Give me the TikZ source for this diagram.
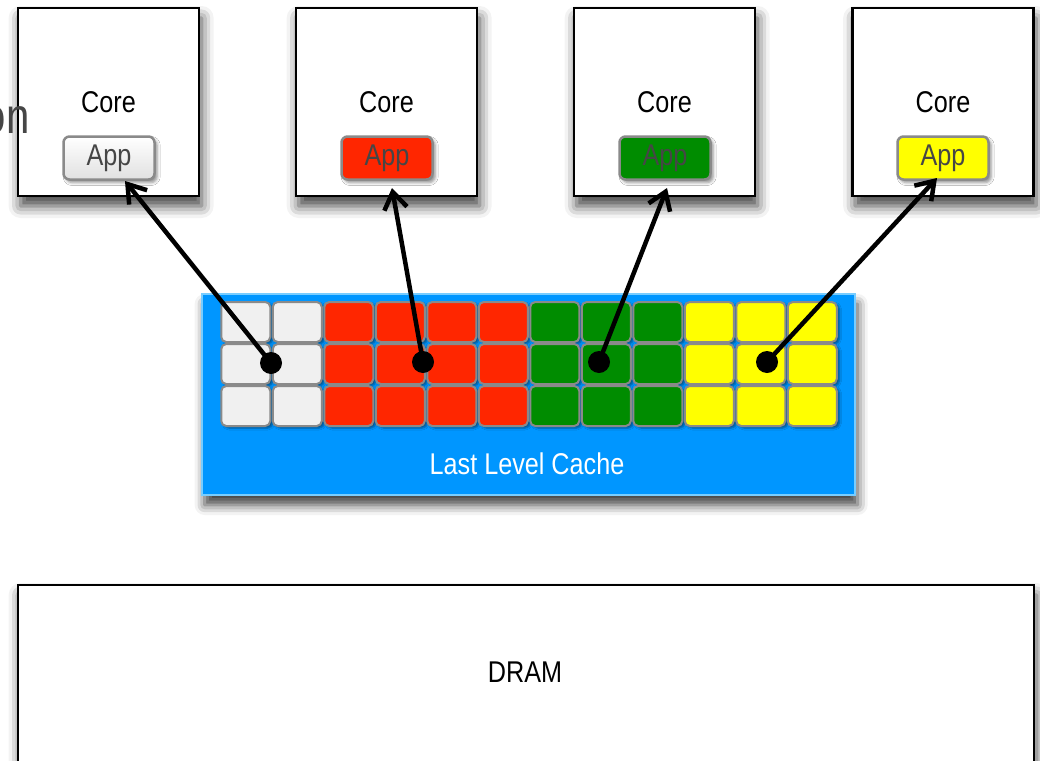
\documentclass[tikz,border=0pt]{standalone}
\usepackage{fontspec}
\setmainfont[FakeStretch=0.84]{Liberation Sans}
\usetikzlibrary{arrows.meta,shadows.blur}

\definecolor{cacheblue}{RGB}{0,150,255}
\definecolor{cacheedge}{RGB}{120,205,255}
\definecolor{appred}{RGB}{255,38,0}
\definecolor{appgreen}{RGB}{0,140,0}
\definecolor{appyellow}{RGB}{255,255,0}
\definecolor{cellwhite}{RGB}{240,240,240}
\definecolor{rimgray}{RGB}{138,138,138}
\definecolor{apptext}{RGB}{70,70,70}

\tikzset{
  every node/.style={font=\fontsize{30}{33}\selectfont},
  corebox/.style={draw=black, line width=2.5pt, fill=white, inner sep=0pt,
    minimum width=181pt, minimum height=188pt,
    blur shadow={shadow yshift=-10pt, shadow blur radius=12pt, shadow opacity=75}},
  appbtn/.style={draw=rimgray, line width=2.5pt, rounded corners=6pt, inner sep=0pt,
    minimum width=91pt, minimum height=43pt, text=apptext,
    blur shadow={shadow yshift=-3pt, shadow blur radius=3pt, shadow opacity=45}},
  cell/.style={draw=rimgray, line width=2pt, rounded corners=5pt, inner sep=0pt,
    minimum width=49pt, minimum height=40pt,
    blur shadow={shadow yshift=-2pt, shadow blur radius=2pt, shadow opacity=45}},
  dot/.style={circle, fill=black, inner sep=0pt, minimum size=22pt},
  link/.style={line width=4.5pt, -{Straight Barb[length=17pt,width=23pt]}},
}

\begin{document}
\begin{tikzpicture}[x=1pt,y=-1pt]
  \useasboundingbox (0,0) rectangle (1040,760);

  % cache with its partitions
  \node[draw=cacheedge, line width=2pt, fill=cacheblue, inner sep=0pt,
    minimum width=653pt, minimum height=201pt,
    blur shadow={shadow yshift=-10pt, shadow blur radius=10pt, shadow opacity=75}]
    (cache) at (528.5,394.5) {};
  \foreach \col [count=\k from 0] in {cellwhite,cellwhite,appred,appred,appred,appred,
      appgreen,appgreen,appgreen,appyellow,appyellow,appyellow}
    \foreach \r in {0,1,2}
      \node[cell, fill=\col] (cell-\k-\r) at ({245.75+51.5*\k},{322+42*\r}) {};
  \node[text=white] (cachelabel) at (527,464) {Last Level Cache};

  % cores and the apps running on them
  \foreach \i/\x in {1/108.5,2/386.5,3/664.5,4/943}
    \node[corebox] (core\i) at (\x,102) {Core};
  \node[appbtn, top color=white, bottom color=black!12] (app1) at (109,158) {App};
  \node[appbtn, fill=appred] (app2) at (387,158) {App};
  \node[appbtn, fill=appgreen] (app3) at (665,158) {App};
  \node[appbtn, fill=appyellow] (app4) at (943,158) {App};

  % memory
  \node[corebox, minimum width=1016pt, minimum height=186pt] (dram) at (526,678) {};
  \node (dramlabel) at (525,672) {DRAM};

  % which part of the cache each app gets
  \node[dot] (dot1) at (271,363) {};
  \node[dot] (dot2) at (423,362) {};
  \node[dot] (dot3) at (599,362) {};
  \node[dot] (dot4) at (767,362) {};
  \coordinate (tip1) at (125,181);
  \coordinate (tip2) at (392,188);
  \coordinate (tip3) at (667,188);
  \coordinate (tip4) at (937,178);
  \foreach \i in {1,...,4}
    \draw[link] (dot\i.center) -- (tip\i);

  \node[text=apptext, font=\fontsize{50}{52}\selectfont, anchor=base east]
    (heading) at (33,133) {on};
\end{tikzpicture}
\end{document}
